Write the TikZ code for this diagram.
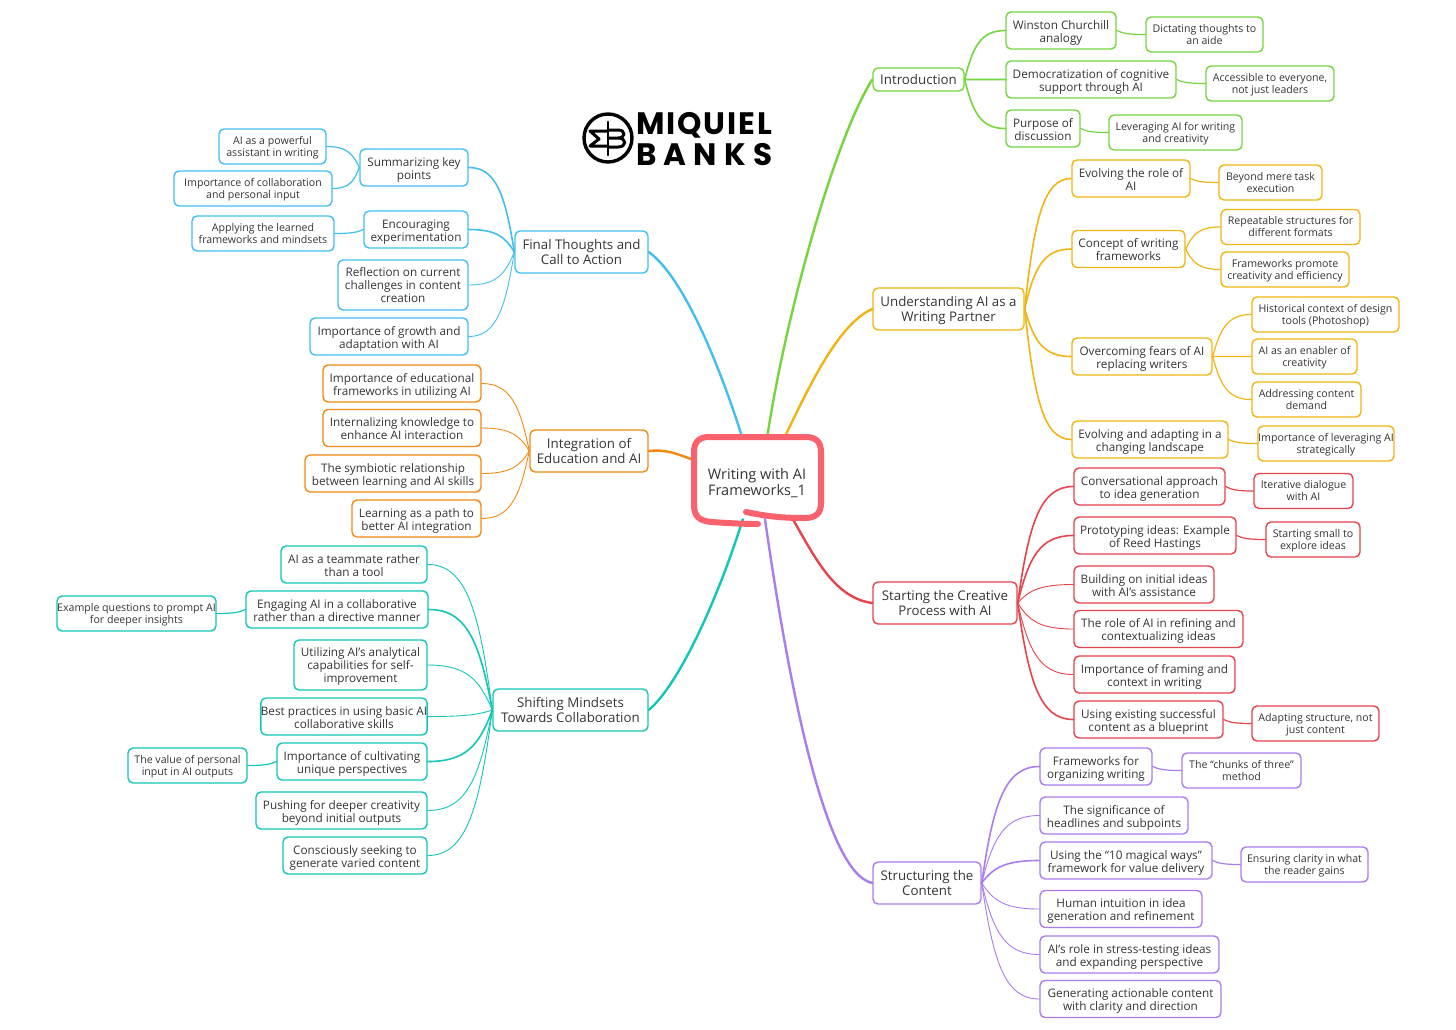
\documentclass[tikz,border=0pt]{standalone}
\usepackage{fontspec}
\setmainfont{Open Sans}
\newfontfamily\logofont{Poppins}[Scale=1]
\usetikzlibrary{calc}
\definecolor{grn}{HTML}{74D63F}
\definecolor{ylw}{HTML}{F0B512}
\definecolor{rdd}{HTML}{E6434C}
\definecolor{prp}{HTML}{A97DEB}
\definecolor{blu}{HTML}{42BFEF}
\definecolor{org}{HTML}{F28A12}
\definecolor{tel}{HTML}{12C6B8}
\definecolor{rootline}{HTML}{F9626C}
\definecolor{ink}{HTML}{353535}
\tikzset{
box/.style={rounded corners=5,line width=1.4,inner sep=0,align=center,text=ink,fill=white},
top/.style={box,minimum height=42,text height=27.5pt,text depth=3.5pt,font=\fontsize{13.3}{15}\selectfont},
mid/.style={box,minimum height=37,text height=26.6pt,text depth=3.4pt,font=\fontsize{11.75}{13}\selectfont},
low/.style={box,minimum height=35,text height=22.5pt,text depth=3pt,font=\fontsize{10.6}{12}\selectfont},
brand/.style={inner sep=0,anchor=base west,font=\logofont\fontsize{31}{31}\selectfont\bfseries},
branch/.style={to path={.. controls ($(\tikztostart)!.6!(\tikztostart |- \tikztotarget)!.2!(\tikztotarget)$) and ($(\tikztostart |- \tikztotarget)!.4!(\tikztotarget)$) .. (\tikztotarget)}},
main/.style={line width=2.4},
stem/.style={branch,line width=1.6},
leaf/.style={branch,line width=.9},
twig/.style={branch,line width=1.2}
}
\begin{document}
\begin{tikzpicture}[line cap=round,line join=round,x=1pt,y=-1pt]
\useasboundingbox (0,0) rectangle (1456,1029);
\fill[white] (0,0) rectangle (1456,1029);
\node[inner sep=0,minimum width=130,minimum height=82,text height=39pt,text depth=3.6pt,align=center,text=ink,font=\fontsize{14.5}{16}\selectfont] (root) at (757,478) {Writing with AI\\Frameworks\_1};
\node[brand] (miquiel) at (636,134) {\hbox to 136pt{M\hfill I\hfill Q\hfill U\hfill I\hfill E\hfill L}};
\node[brand] (banks) at (636,165) {\hbox to 136pt{B\hfill A\hfill N\hfill K\hfill S}};
\draw[line width=3.4] (608,138) circle (24);
\draw[line width=2.8] (608,122) -- (608,155);
\draw[line width=3] (608,131) -- (590,131) -- (599,139) -- (590,146) -- (608,146);
\draw[line width=3] (608,130) -- (618,130) .. controls (626,130) and (626,138) .. (618,138) -- (608,138) (618,138) .. controls (627,138) and (627,147) .. (618,147) -- (608,147);

\node[top,draw=grn,minimum width=91,minimum height=23,text height=12pt,text depth=3pt] (intro) at (918.5,79.5) {Introduction};
\node[mid,draw=grn,minimum width=110] (churchill) at (1061,30.5) {Winston Churchill\\analogy};
\node[low,draw=grn,minimum width=117] (dictating) at (1204.5,34.5) {Dictating thoughts to\\an aide};
\node[mid,draw=grn,minimum width=170] (democracy) at (1091,79.5) {Democratization of cognitive\\support through AI};
\node[low,draw=grn,minimum width=128] (accessible) at (1270,83.5) {Accessible to everyone,\\not just leaders};
\node[mid,draw=grn,minimum width=74] (purpose) at (1043,128.5) {Purpose of\\discussion};
\node[low,draw=grn,minimum width=133] (leveraging) at (1175.5,132.5) {Leveraging AI for writing\\and creativity};

\node[top,draw=ylw,minimum width=151] (partner) at (948.5,309) {Understanding AI as a\\Writing Partner};
\node[mid,draw=ylw,minimum width=118] (role) at (1131,178.5) {Evolving the role of\\AI};
\node[low,draw=ylw,minimum width=103] (beyond) at (1270.5,182.5) {Beyond mere task\\execution};
\node[mid,draw=ylw,minimum width=113] (concept) at (1128.5,249) {Concept of writing\\frameworks};
\node[low,draw=ylw,minimum width=139] (repeatable) at (1290.5,227) {Repeatable structures for\\different formats};
\node[low,draw=ylw,minimum width=128] (promote) at (1285,269.5) {Frameworks promote\\creativity and efficiency};
\node[mid,draw=ylw,minimum width=140] (fears) at (1142,356.5) {Overcoming fears of AI\\replacing writers};
\node[low,draw=ylw,minimum width=147] (history) at (1325.5,314.5) {Historical context of design\\tools (Photoshop)};
\node[low,draw=ylw,minimum width=105] (enabler) at (1304.5,356.5) {AI as an enabler of\\creativity};
\node[low,draw=ylw,minimum width=109] (demand) at (1306.5,399.5) {Addressing content\\demand};
\node[mid,draw=ylw,minimum width=156] (landscape) at (1150,439.5) {Evolving and adapting in a\\changing landscape};
\node[low,draw=ylw,minimum width=136] (strategic) at (1326,443.5) {Importance of leveraging AI\\strategically};

\node[top,draw=rdd,minimum width=144] (creative) at (945,603) {Starting the Creative\\Process with AI};
\node[mid,draw=rdd,minimum width=151] (dialogue) at (1149.5,486.5) {Conversational approach\\to idea generation};
\node[low,draw=rdd,minimum width=99] (iterative) at (1303.5,491) {Iterative dialogue\\with AI};
\node[mid,draw=rdd,minimum width=162] (prototype) at (1155,535.5) {Prototyping ideas: Example\\of Reed Hastings};
\node[low,draw=rdd,minimum width=94] (small) at (1313,539.5) {Starting small to\\explore ideas};
\node[mid,draw=rdd,minimum width=140] (building) at (1144,584.5) {Building on initial ideas\\with AI’s assistance};
\node[mid,draw=rdd,minimum width=169] (refining) at (1158.5,629) {The role of AI in refining and\\contextualizing ideas};
\node[mid,draw=rdd,minimum width=161] (framing) at (1154.5,674.5) {Importance of framing and\\context in writing};
\node[mid,draw=rdd,minimum width=149] (blueprint) at (1148.5,719.5) {Using existing successful\\content as a blueprint};
\node[low,draw=rdd,minimum width=127] (adapting) at (1315.5,723.5) {Adapting structure, not\\just content};

\node[top,draw=prp,minimum width=108] (content) at (927,883) {Structuring the\\Content};
\node[mid,draw=prp,minimum width=112] (organizing) at (1096,766.5) {Frameworks for\\organizing writing};
\node[low,draw=prp,minimum width=119] (chunks) at (1241.5,770.5) {The “chunks of three”\\method};
\node[mid,draw=prp,minimum width=148] (headlines) at (1114,815.5) {The significance of\\headlines and subpoints};
\node[mid,draw=prp,minimum width=172] (magical) at (1126,860.5) {Using the “10 magical ways”\\framework for value delivery};
\node[low,draw=prp,minimum width=127] (clarity) at (1304.5,864.5) {Ensuring clarity in what\\the reader gains};
\node[mid,draw=prp,minimum width=162] (intuition) at (1121,909) {Human intuition in idea\\generation and refinement};
\node[mid,draw=prp,minimum width=179] (stress) at (1129.5,954.5) {AI’s role in stress-testing ideas\\and expanding perspective};
\node[mid,draw=prp,minimum width=181] (actionable) at (1130.5,999) {Generating actionable content\\with clarity and direction};

\node[top,draw=blu,minimum width=133] (action) at (581.5,252) {Final Thoughts and\\Call to Action};
\node[mid,draw=blu,minimum width=108] (summary) at (414,167.5) {Summarizing key\\points};
\node[low,draw=blu,minimum width=107] (assistant) at (272.5,146.5) {AI as a powerful\\assistant in writing};
\node[low,draw=blu,minimum width=158] (personal) at (253,188.5) {Importance of collaboration\\and personal input};
\node[mid,draw=blu,minimum width=104] (experiment) at (416,229.5) {Encouraging\\experimentation};
\node[low,draw=blu,minimum width=142] (mindsets) at (263,233.5) {Applying the learned\\frameworks and mindsets};
\node[mid,draw=blu,minimum width=130,minimum height=50,text height=39pt] (reflection) at (403,285) {Reflection on current\\challenges in content\\creation};
\node[mid,draw=blu,minimum width=158] (growth) at (389,336.5) {Importance of growth and\\adaptation with AI};

\node[top,draw=org,minimum width=118] (education) at (589,451) {Integration of\\Education and AI};
\node[mid,draw=org,minimum width=158] (utilizing) at (402,383.5) {Importance of educational\\frameworks in utilizing AI};
\node[mid,draw=org,minimum width=158] (internal) at (402,428) {Internalizing knowledge to\\enhance AI interaction};
\node[mid,draw=org,minimum width=176] (symbiotic) at (393,473.5) {The symbiotic relationship\\between learning and AI skills};
\node[mid,draw=org,minimum width=129] (learning) at (416.5,518.5) {Learning as a path to\\better AI integration};

\node[top,draw=tel,minimum width=155] (mindset) at (570.5,710) {Shifting Mindsets\\Towards Collaboration};
\node[mid,draw=tel,minimum width=146] (teammate) at (354,564.5) {AI as a teammate rather\\than a tool};
\node[mid,draw=tel,minimum width=182] (engaging) at (337,609.5) {Engaging AI in a collaborative\\rather than a directive manner};
\node[low,draw=tel,minimum width=159] (questions) at (136.5,613.5) {Example questions to prompt AI\\for deeper insights};
\node[mid,draw=tel,minimum width=133,minimum height=50,text height=39pt] (analytical) at (360.5,665) {Utilizing AI’s analytical\\capabilities for self-\\improvement};
\node[mid,draw=tel,minimum width=166] (practices) at (344,716.5) {Best practices in using basic AI\\collaborative skills};
\node[mid,draw=tel,minimum width=150] (unique) at (352,761.5) {Importance of cultivating\\unique perspectives};
\node[low,draw=tel,minimum width=119] (value) at (187.5,765.5) {The value of personal\\input in AI outputs};
\node[mid,draw=tel,minimum width=171] (pushing) at (341.5,810.5) {Pushing for deeper creativity\\beyond initial outputs};
\node[mid,draw=tel,minimum width=144] (seeking) at (355,855.5) {Consciously seeking to\\generate varied content};

\draw[main,grn] (root.76) .. controls +(18,-120) and +(-38,60) .. (intro.west);
\draw[main,ylw] (root.56) .. controls +(22,-45) and +(-35,15) .. (partner.west);
\draw[main,rdd] (root.-49) .. controls +(22,38) and +(-38,-5) .. (creative.west);
\draw[main,prp] (root.-79) .. controls +(20,140) and +(-50,-10) .. (content.west);
\draw[main,blu] (root.110) .. controls +(-22,-70) and +(35,25) .. (action.east);
\draw[main,org] (root.164) .. controls +(-14,-5) and +(18,-2) .. (education.east);
\draw[main,tel] (root.-109) .. controls +(-25,80) and +(30,-25) .. (mindset.east);
\draw[rootline,line width=6] (746,512) .. controls (770,517) and (785,518) .. (805,518) .. controls (816,518) and (821,513) .. (821,503) -- (821,452) .. controls (821,442) and (816,437) .. (806,437) -- (709,437) .. controls (699,437) and (694,442) .. (694,452) -- (694,505) .. controls (694,517) and (700,521) .. (712,522) .. controls (725,523) and (745,524) .. (758,524);

\draw[stem,grn] (intro.east) to (churchill.west);
\draw[stem,grn] (intro.east) to (democracy.west);
\draw[stem,grn] (intro.east) to (purpose.west);
\draw[twig,grn] (churchill.east) to (dictating.west);
\draw[twig,grn] (democracy.east) to (accessible.west);
\draw[twig,grn] (purpose.east) to (leveraging.west);

\draw[stem,ylw] (partner.east) to (role.west);
\draw[stem,ylw] (partner.east) to (concept.west);
\draw[stem,ylw] (partner.east) to (fears.west);
\draw[stem,ylw] (partner.east) to (landscape.west);
\draw[twig,ylw] (role.east) to (beyond.west);
\draw[twig,ylw] (concept.east) to (repeatable.west);
\draw[twig,ylw] (concept.east) to (promote.west);
\draw[twig,ylw] (fears.east) to (history.west);
\draw[twig,ylw] (fears.east) to (enabler.west);
\draw[twig,ylw] (fears.east) to (demand.west);
\draw[twig,ylw] (landscape.east) to (strategic.west);

\draw[stem,rdd] (creative.east) to (dialogue.west);
\draw[stem,rdd] (creative.east) to (prototype.west);
\draw[leaf,rdd] (creative.east) to (building.west);
\draw[leaf,rdd] (creative.east) to (refining.west);
\draw[leaf,rdd] (creative.east) to (framing.west);
\draw[stem,rdd] (creative.east) to (blueprint.west);
\draw[twig,rdd] (dialogue.east) to (iterative.west);
\draw[twig,rdd] (prototype.east) to (small.west);
\draw[twig,rdd] (blueprint.east) to (adapting.west);

\draw[stem,prp] (content.east) to (organizing.west);
\draw[leaf,prp] (content.east) to (headlines.west);
\draw[stem,prp] (content.east) to (magical.west);
\draw[leaf,prp] (content.east) to (intuition.west);
\draw[leaf,prp] (content.east) to (stress.west);
\draw[leaf,prp] (content.east) to (actionable.west);
\draw[twig,prp] (organizing.east) to (chunks.west);
\draw[twig,prp] (magical.east) to (clarity.west);

\draw[stem,blu] (action.west) to (summary.east);
\draw[stem,blu] (action.west) to (experiment.east);
\draw[leaf,blu] (action.west) to (reflection.east);
\draw[leaf,blu] (action.west) to (growth.east);
\draw[twig,blu] (summary.west) to (assistant.east);
\draw[twig,blu] (summary.west) to (personal.east);
\draw[twig,blu] (experiment.west) to (mindsets.east);

\draw[leaf,org] (education.west) to (utilizing.east);
\draw[leaf,org] (education.west) to (internal.east);
\draw[leaf,org] (education.west) to (symbiotic.east);
\draw[leaf,org] (education.west) to (learning.east);

\draw[leaf,tel] (mindset.west) to (teammate.east);
\draw[stem,tel] (mindset.west) to (engaging.east);
\draw[leaf,tel] (mindset.west) to (analytical.east);
\draw[leaf,tel] (mindset.west) to (practices.east);
\draw[stem,tel] (mindset.west) to (unique.east);
\draw[leaf,tel] (mindset.west) to (pushing.east);
\draw[leaf,tel] (mindset.west) to (seeking.east);
\draw[twig,tel] (engaging.west) to (questions.east);
\draw[twig,tel] (unique.west) to (value.east);
\end{tikzpicture}
\end{document}
